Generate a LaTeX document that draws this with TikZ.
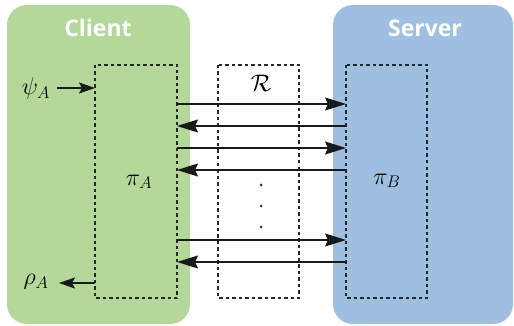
\RequirePackage{fix-cm}
\documentclass[tikz,border=0pt]{standalone}
\usepackage{fontspec}
\newfontfamily\titlefont{Open Sans}
\usetikzlibrary{arrows.meta}
\definecolor{clientgreen}{RGB}{179,216,154}
\definecolor{serverblue}{RGB}{158,191,224}
\tikzset{
  party/.style={rounded corners=20pt, draw=none},
  title/.style={text=white, font=\titlefont\bfseries\fontsize{23}{26}\selectfont},
  procbox/.style={draw=black!85, line width=1.7pt, dash pattern=on 3.5pt off 3pt},
  msg/.style={draw=black!90, line width=1.4pt, -{Stealth[length=21pt,width=13pt,inset=3pt]}},
  io/.style={draw=black!90, line width=1.4pt, -{Stealth[length=16pt,width=11pt,inset=3pt]}},
  lbl/.style={font=\fontsize{24}{28}\selectfont},
  dotmark/.style={circle, fill=black!80, inner sep=0pt, minimum size=3pt}
}
\begin{document}
\begin{tikzpicture}[x=1pt,y=-1pt]
  \useasboundingbox (0,0) rectangle (514,326);
  % the two parties
  \fill[party, clientgreen] (7,5) rectangle (190,324);
  \fill[party, serverblue] (333,5) rectangle (513,324);
  \node[title] (client) at (98,28) {Client};
  \node[title] (server) at (425,28) {Server};
  % protocol boxes and the channel
  \draw[procbox] (95,65) rectangle (177,298);
  \draw[procbox] (218,65) rectangle (299,298);
  \draw[procbox] (346,65) rectangle (427,298);
  \node[lbl] (piA) at (139,182) {$\pi_A$};
  \node[lbl] (piB) at (387,181) {$\pi_B$};
  \node[lbl] (R) at (261,83) {$\mathcal{R}$};
  % input and output
  \node[lbl] (psi) at (36,89) {$\psi_A$};
  \node[lbl] (rho) at (36,282) {$\rho_A$};
  \coordinate (psiE) at (57,88);
  \coordinate (inA) at (95,88);
  \coordinate (outA) at (95,283);
  \coordinate (rhoE) at (59,283);
  \draw[io] (psiE) -- (inA);
  \draw[io] (outA) -- (rhoE);
  % message exchange
  \coordinate (a1) at (177,104); \coordinate (b1) at (346,104);
  \coordinate (a2) at (177,126); \coordinate (b2) at (346,126);
  \coordinate (a3) at (177,148); \coordinate (b3) at (346,148);
  \coordinate (a4) at (177,170); \coordinate (b4) at (346,170);
  \coordinate (a5) at (177,240); \coordinate (b5) at (346,240);
  \coordinate (a6) at (177,262); \coordinate (b6) at (346,262);
  \draw[msg] (a1) -- (b1);
  \draw[msg] (b2) -- (a2);
  \draw[msg] (a3) -- (b3);
  \draw[msg] (b4) -- (a4);
  \draw[msg] (a5) -- (b5);
  \draw[msg] (b6) -- (a6);
  % vertical ellipsis
  \node[dotmark] (d1) at (261,185) {};
  \node[dotmark] (d2) at (261,206) {};
  \node[dotmark] (d3) at (261,227) {};
\end{tikzpicture}
\end{document}
